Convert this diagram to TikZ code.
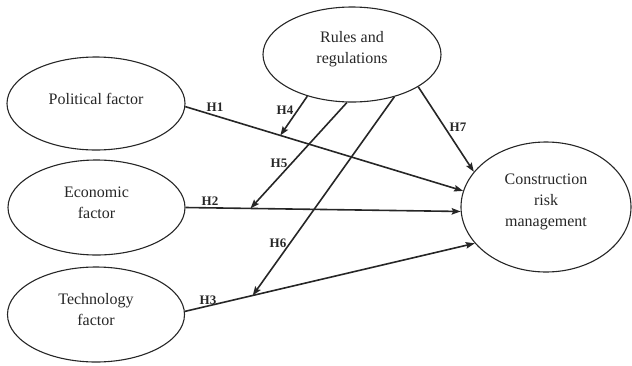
\documentclass[tikz,border=0pt]{standalone}
\usepackage{fontspec}
\setmainfont{Liberation Serif}
\usetikzlibrary{shapes.geometric,arrows.meta}
\begin{document}
\begin{tikzpicture}[x=1pt,y=-1pt,
 ell/.style={draw=black!85,line width=1.1pt,ellipse,inner sep=0pt},
 txt/.style={align=center,font=\fontsize{16}{21}\selectfont,text=black!85,yshift=5pt},
 arr/.style={draw=black!85,line width=1.6pt,-{Stealth[length=9pt,width=6.5pt,inset=1.5pt]}},
 lbl/.style={font=\fontsize{13}{15}\selectfont\bfseries,text=black!85,inner sep=0pt}]
\useasboundingbox (0,0) rectangle (632,365);
% ellipses
\node[ell,minimum width=178pt,minimum height=95pt] (rul) at (352,54.5) {};
\node[ell,minimum width=178pt,minimum height=93pt] (pol) at (96,103.5) {};
\node[ell,minimum width=177pt,minimum height=95pt] (eco) at (96.5,207.5) {};
\node[ell,minimum width=177pt,minimum height=95pt] (tech) at (96,314.5) {};
\node[ell,minimum width=170pt,minimum height=130pt] (cons) at (546,207) {};
% texts
\node[txt] (trul) at (rul.center) {Rules and\\regulations};
\node[txt] (tpol) at (pol.center) {Political factor};
\node[txt] (teco) at (eco.center) {Economic\\factor};
\node[txt] (ttech) at (tech.center) {Technology\\factor};
\node[txt] (tcons) at (cons.center) {Construction\\risk\\management};
% connectors
\draw[arr] (pol.-2) -- coordinate[pos=0.342] (m1) (cons.169);
\draw[arr] (eco.east) -- coordinate[pos=0.236] (m2) (cons.183);
\draw[arr] (tech.2) -- coordinate[pos=0.234] (m3) (cons.207);
\draw[arr] (rul.223) -- (m1);
\draw[arr] (rul.264) -- (m2);
\draw[arr] (rul.315) -- (m3);
\draw[arr] (rul.334) -- (cons.154);
% labels
\node[lbl] (h1) at (215,107) {H1};
\node[lbl] (h2) at (210,201) {H2};
\node[lbl] (h3) at (208,300) {H3};
\node[lbl] (h4) at (285,110) {H4};
\node[lbl] (h5) at (279,163) {H5};
\node[lbl] (h6) at (278,243) {H6};
\node[lbl] (h7) at (458,127) {H7};
\end{tikzpicture}
\end{document}
